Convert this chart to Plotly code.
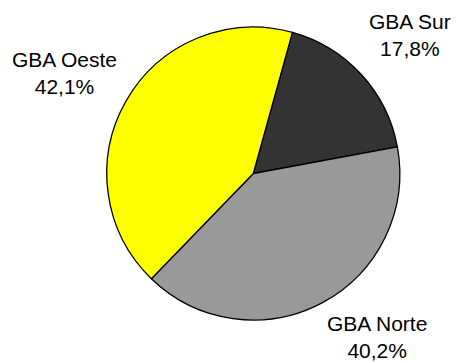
import plotly.graph_objects as go

labels = ["GBA Sur", "GBA Norte", "GBA Oeste"]
values = [17.8, 40.2, 42.1]
colors = ["#333333", "#999999", "#FFFF00"]

W, H = 456, 363
cx, cy, r = 253.3, 173.5, 146.5

fig = go.Figure(go.Pie(
    labels=labels,
    values=values,
    sort=False,
    direction="clockwise",
    rotation=15.5,
    marker=dict(colors=colors, line=dict(color="#000000", width=1.3)),
    textinfo="none",
    hoverinfo="label+percent",
    domain=dict(x=[(cx - r) / W, (cx + r) / W], y=[(H - cy - r) / H, (H - cy + r) / H]),
    showlegend=False,
))

label_pos = {"GBA Sur": (410, 35), "GBA Norte": (377, 337), "GBA Oeste": (64, 73)}
for lab, val in zip(labels, values):
    px, py = label_pos[lab]
    fig.add_annotation(
        x=px / W, y=(H - py) / H, xref="paper", yref="paper",
        text=f"{lab}<br>{val:.1f}".replace(".", ",") + "%",
        showarrow=False, xanchor="center", yanchor="middle",
        font=dict(family="Liberation Sans, Arial, sans-serif", size=21, color="#000000"),
    )

fig.update_layout(
    width=W, height=H,
    margin=dict(l=0, r=0, t=0, b=0),
    paper_bgcolor="#FFFFFF", plot_bgcolor="#FFFFFF",
)
fig.write_html("out.html")
